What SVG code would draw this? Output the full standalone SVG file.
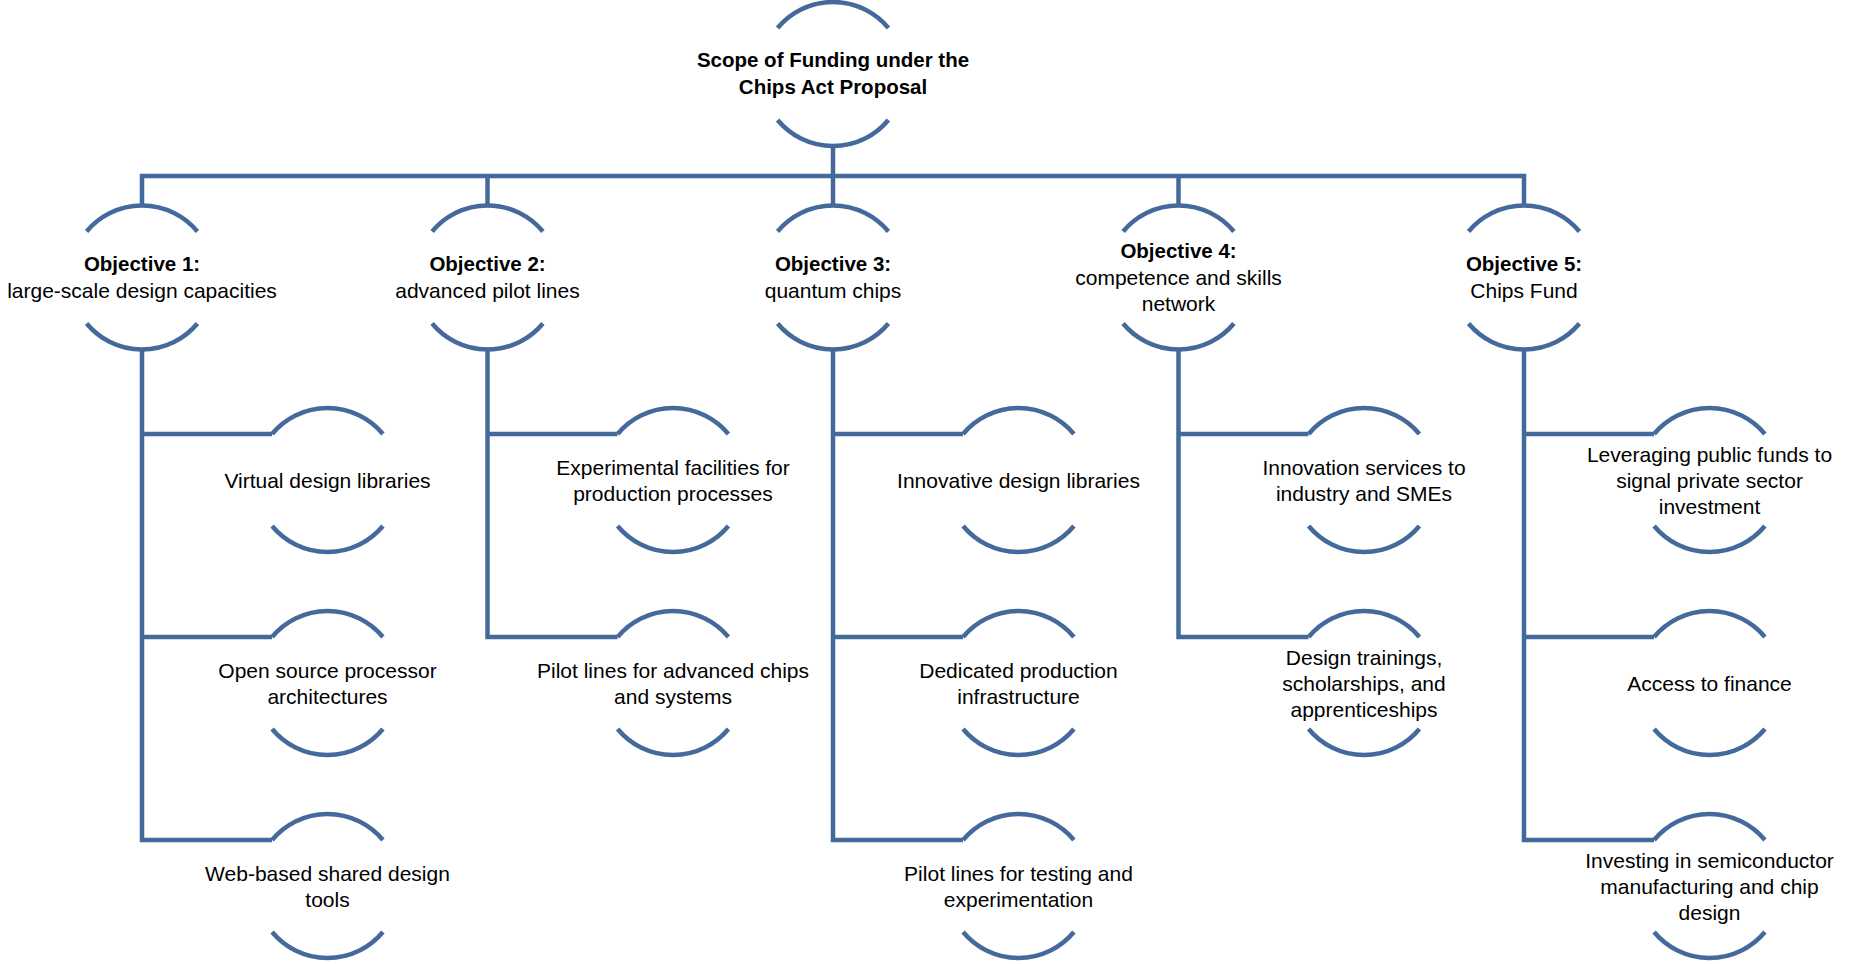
<svg xmlns="http://www.w3.org/2000/svg" xmlns:xlink="http://www.w3.org/1999/xlink" width="1860" height="964" viewBox="0 0 1860 964">
<style>
.ln{fill:none;stroke:#44699B;stroke-width:4.5;stroke-linejoin:miter}
text{font-family:"Liberation Sans",Arial,sans-serif;font-size:21px;fill:#000;text-anchor:middle}
.b{font-weight:bold;font-size:20.5px}
</style>
<defs>
<g id="arcs">
<path class="ln" d="M-55.4 -46 A72 72 0 0 1 55.4 -46"/>
<path class="ln" d="M-55.4 46 A72 72 0 0 0 55.4 46"/>
</g>
</defs>
<rect width="1860" height="964" fill="#fff"/>
<g id="connectors" class="ln">
<path d="M142 205.5 V176 H1524 V205.5"/>
<path d="M833 146 V205.5"/>
<path d="M487.5 176 V205.5"/>
<path d="M1178.5 176 V205.5"/>
<path d="M142 349.5 V840 H272"/>
<path d="M142 434 H272 M142 637 H272"/>
<path d="M487.5 349.5 V637 H617.5 M487.5 434 H617.5"/>
<path d="M833 349.5 V840 H963 M833 434 H963 M833 637 H963"/>
<path d="M1178.5 349.5 V637 H1308.5 M1178.5 434 H1308.5"/>
<path d="M1524 349.5 V840 H1654 M1524 434 H1654 M1524 637 H1654"/>
</g>
<g id="root" transform="translate(833,74)"><use href="#arcs"/><text class="b" y="-7">Scope of Funding under the</text><text class="b" y="19.5">Chips Act Proposal</text></g>
<g id="obj1" transform="translate(142,277.5)"><use href="#arcs"/><text class="b" y="-6.5">Objective 1:</text><text y="20">large-scale design capacities</text></g>
<g id="obj2" transform="translate(487.5,277.5)"><use href="#arcs"/><text class="b" y="-6.5">Objective 2:</text><text y="20">advanced pilot lines</text></g>
<g id="obj3" transform="translate(833,277.5)"><use href="#arcs"/><text class="b" y="-6.5">Objective 3:</text><text y="20">quantum chips</text></g>
<g id="obj4" transform="translate(1178.5,277.5)"><use href="#arcs"/><text class="b" y="-19.5">Objective 4:</text><text y="7">competence and skills</text><text y="33.5">network</text></g>
<g id="obj5" transform="translate(1524,277.5)"><use href="#arcs"/><text class="b" y="-6.5">Objective 5:</text><text y="20">Chips Fund</text></g>
<g id="l1a" transform="translate(327.5,480)"><use href="#arcs"/><text y="7.5">Virtual design libraries</text></g>
<g id="l1b" transform="translate(327.5,683)"><use href="#arcs"/><text y="-5.5">Open source processor</text><text y="20.5">architectures</text></g>
<g id="l1c" transform="translate(327.5,886)"><use href="#arcs"/><text y="-5.5">Web-based shared design</text><text y="20.5">tools</text></g>
<g id="l2a" transform="translate(673,480)"><use href="#arcs"/><text y="-5.5">Experimental facilities for</text><text y="20.5">production processes</text></g>
<g id="l2b" transform="translate(673,683)"><use href="#arcs"/><text y="-5.5">Pilot lines for advanced chips</text><text y="20.5">and systems</text></g>
<g id="l3a" transform="translate(1018.5,480)"><use href="#arcs"/><text y="7.5">Innovative design libraries</text></g>
<g id="l3b" transform="translate(1018.5,683)"><use href="#arcs"/><text y="-5.5">Dedicated production</text><text y="20.5">infrastructure</text></g>
<g id="l3c" transform="translate(1018.5,886)"><use href="#arcs"/><text y="-5.5">Pilot lines for testing and</text><text y="20.5">experimentation</text></g>
<g id="l4a" transform="translate(1364,480)"><use href="#arcs"/><text y="-5.5">Innovation services to</text><text y="20.5">industry and SMEs</text></g>
<g id="l4b" transform="translate(1364,683)"><use href="#arcs"/><text y="-18.5">Design trainings,</text><text y="7.5">scholarships, and</text><text y="33.5">apprenticeships</text></g>
<g id="l5a" transform="translate(1709.5,480)"><use href="#arcs"/><text y="-18.5">Leveraging public funds to</text><text y="7.5">signal private sector</text><text y="33.5">investment</text></g>
<g id="l5b" transform="translate(1709.5,683)"><use href="#arcs"/><text y="7.5">Access to finance</text></g>
<g id="l5c" transform="translate(1709.5,886)"><use href="#arcs"/><text y="-18.5">Investing in semiconductor</text><text y="7.5">manufacturing and chip</text><text y="33.5">design</text></g>
</svg>
